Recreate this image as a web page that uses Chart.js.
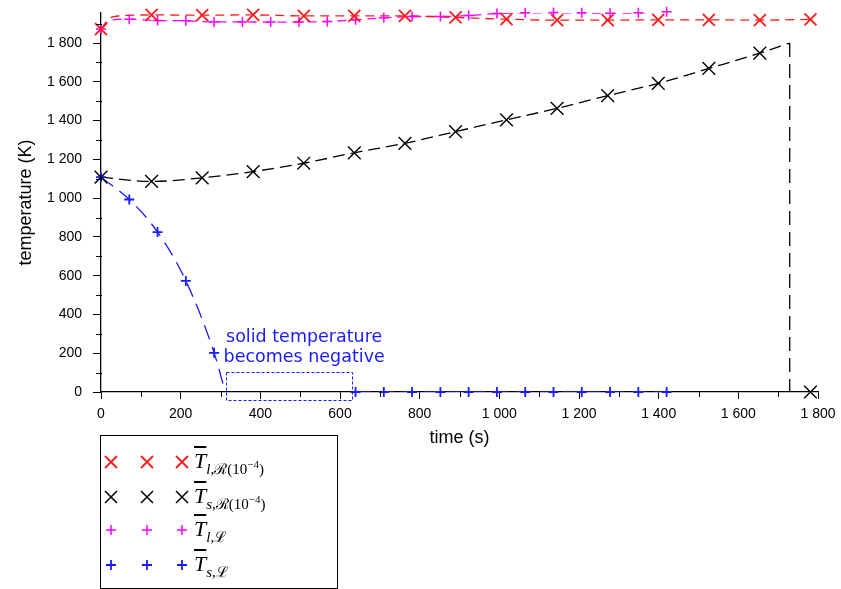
<!DOCTYPE html>
<html>
<head>
<meta charset="utf-8">
<script src="https://cdn.jsdelivr.net/npm/chart.js@4.4.1/dist/chart.umd.min.js"></script>
<style>
  body { margin: 0; background: #fff; }
  #wrap { position: relative; width: 841px; height: 589px; }
  #grafica { position: absolute; left: 0; top: 0; }
  #leyenda { position: absolute; left: 100px; top: 435px; width: 238px; height: 154px; border: 1px solid #000; box-sizing: border-box; }
  .fila { position: absolute; left: 194px; font-family: "Liberation Serif", "DejaVu Serif", serif; font-size: 22px; line-height: 22px; white-space: nowrap; }
  .fila .T { font-style: italic; text-decoration: overline; }
  .fila sub { font-size: 15px; vertical-align: -6px; }
  .fila sub i { font-style: italic; }
  .fila sup { font-size: 11px; vertical-align: 6px; }
</style>
</head>
<body>
<div id="wrap">
  <canvas id="grafica" width="841" height="589"></canvas>
  <div id="leyenda"></div>
  <div class="fila" style="top:450px"><span class="T">T</span><sub><i>l</i>,ℛ(10<sup>−4</sup>)</sub></div>
  <div class="fila" style="top:485px"><span class="T">T</span><sub><i>s</i>,ℛ(10<sup>−4</sup>)</sub></div>
  <div class="fila" style="top:518px"><span class="T">T</span><sub><i>l</i>,ℒ</sub></div>
  <div class="fila" style="top:553px"><span class="T">T</span><sub><i>s</i>,ℒ</sub></div>
</div>
<script>
// Datos
// Serie R(10^-4): una marca cada ~127 s
const tiemposR = [0, 127, 254, 382, 509, 636, 763, 890, 1018, 1145, 1272, 1399, 1526, 1654, 1781];
const liquidoR = [1872, 1945, 1944, 1945, 1940, 1940, 1940, 1932, 1923, 1918, 1918, 1920, 1920, 1918, 1922];
const solidoR  = [1108, 1086, 1105, 1137, 1180, 1234, 1283, 1343, 1404, 1463, 1529, 1592, 1669, 1748, 0];

// Serie L: una marca cada 71 s
const tiemposL = [0, 71, 142, 213, 284, 355, 426, 497, 568, 639, 710, 781, 852, 923, 994, 1065, 1136, 1207, 1278, 1349, 1420];
const liquidoL = [1872, 1923, 1916, 1915, 1909, 1909, 1908, 1909, 1911, 1920, 1930, 1937, 1937, 1942, 1952, 1956, 1957, 1956, 1954, 1956, 1962];
// la temperatura del sólido se vuelve negativa (fuera de la gráfica) entre ~312 s y ~630 s
const solidoL  = [1108, 993, 825, 573, 202, null, null, null, null, 0, 0, 0, 0, 0, 0, 0, 0, 0, 0, 0, 0];

// puntos extra de las curvas (arranque rápido del líquido, cruce por cero, caída final)
const arranqueLiqR = [[20, 1925], [45, 1940]];
const arranqueLiqL = [[20, 1912], [45, 1922]];
const cruceSolidoL = [312, 0];
const finSolidoR   = [[1729, 1800], [1729, 0], [1781, 0]];

// Ejes
const ejeX = { min: 0, max: 1800, paso: 200, titulo: 'time (s)' };
const ejeY = { min: 0, max: 1955, paso: 200, titulo: 'temperature (K)' };

// Anotación
const textoNota = ['solid temperature', 'becomes negative'];
const cajaNota = { t0: 313, t1: 630, v0: 101, v1: -41 };
const posNota = { t: 510, v: 283 };

const AZUL = '#1a1aff';
const ROJO = '#ff1a1a';
const MAGENTA = '#ff00ff';

const pares = (ts, vs) => ts.map((t, i) => ({ x: t, y: vs[i] }));

// curvas (sin marcas)
const curvaLiqR = [pares(tiemposR, liquidoR)[0], ...arranqueLiqR.map(p => ({ x: p[0], y: p[1] })), ...pares(tiemposR, liquidoR).slice(1)];
const curvaLiqL = [pares(tiemposL, liquidoL)[0], ...arranqueLiqL.map(p => ({ x: p[0], y: p[1] })), ...pares(tiemposL, liquidoL).slice(1)];
const curvaSolR = pares(tiemposR.slice(0, 14), solidoR.slice(0, 14)).concat([{ x: finSolidoR[0][0], y: finSolidoR[0][1] }]);
const caidaSolR = finSolidoR.map(p => ({ x: p[0], y: p[1] }));
const curvaSolL = pares(tiemposL, solidoL);
curvaSolL.splice(5, 0, { x: cruceSolidoL[0], y: cruceSolidoL[1] });

function formatoMiles(v) {
  if (v >= 1000) return Math.floor(v / 1000) + ' ' + String(v % 1000).padStart(3, '0');
  return String(v);
}

// Plugin: marcas menores, anotación y símbolos de la leyenda
const extras = {
  id: 'extras',
  afterDraw(chart) {
    const ctx = chart.ctx;
    const x = chart.scales.x, y = chart.scales.y;
    const area = chart.chartArea;
    ctx.save();
    ctx.strokeStyle = '#000';
    ctx.lineWidth = 1;
    ctx.beginPath();
    for (let v = 100; v < ejeX.max; v += 200) {
      const px = Math.round(x.getPixelForValue(v)) + 0.5;
      ctx.moveTo(px, area.bottom - 1);
      ctx.lineTo(px, area.bottom + 5);
    }
    for (let v = 100; v < ejeY.max; v += 200) {
      const py = Math.round(y.getPixelForValue(v)) + 0.5;
      ctx.moveTo(area.left - 5, py);
      ctx.lineTo(area.left + 1, py);
    }
    ctx.stroke();

    // caja punteada de la anotación
    ctx.strokeStyle = AZUL;
    ctx.setLineDash([3, 2]);
    const bx0 = x.getPixelForValue(cajaNota.t0), bx1 = x.getPixelForValue(cajaNota.t1);
    const by0 = y.getPixelForValue(cajaNota.v0), by1 = y.getPixelForValue(cajaNota.v1);
    ctx.strokeRect(Math.round(bx0) + 0.5, Math.round(by0) + 0.5, Math.round(bx1 - bx0), Math.round(by1 - by0));
    ctx.setLineDash([]);

    ctx.fillStyle = AZUL;
    ctx.font = '17.5px "DejaVu Sans"';
    ctx.textAlign = 'center';
    ctx.textBaseline = 'middle';
    const nx = x.getPixelForValue(posNota.t), ny = y.getPixelForValue(posNota.v);
    textoNota.forEach((linea, i) => ctx.fillText(linea, nx, ny + i * 20));

    // símbolos de la leyenda
    const filas = [
      { y: 462, color: ROJO, forma: 'x', w: 1.8 },
      { y: 497, color: '#000', forma: 'x', w: 1.5 },
      { y: 530, color: MAGENTA, forma: '+', w: 1.5 },
      { y: 565, color: AZUL, forma: '+', w: 1.8 }
    ];
    filas.forEach(f => {
      [111, 147, 182].forEach(cx => {
        ctx.strokeStyle = f.color;
        ctx.lineWidth = f.w;
        ctx.beginPath();
        if (f.forma === 'x') {
          ctx.moveTo(cx - 6, f.y - 6); ctx.lineTo(cx + 6, f.y + 6);
          ctx.moveTo(cx - 6, f.y + 6); ctx.lineTo(cx + 6, f.y - 6);
        } else {
          ctx.moveTo(cx - 5, f.y); ctx.lineTo(cx + 5, f.y);
          ctx.moveTo(cx, f.y - 5); ctx.lineTo(cx, f.y + 5);
        }
        ctx.stroke();
      });
    });
    ctx.restore();
  }
};

const linea = (datos, color, guion, extra) => Object.assign({
  data: datos,
  borderColor: color,
  borderWidth: 1.3,
  borderDash: guion,
  pointRadius: 0,
  fill: false,
  showLine: true,
  cubicInterpolationMode: 'monotone',
  spanGaps: false
}, extra || {});

const marcas = (datos, color, forma, radio, ancho) => ({
  data: datos,
  borderColor: color,
  backgroundColor: color,
  showLine: false,
  pointStyle: forma,
  pointRadius: radio,
  pointBorderWidth: ancho,
  clip: false
});

new Chart(document.getElementById('grafica'), {
  type: 'scatter',
  data: {
    datasets: [
      marcas(pares(tiemposR, liquidoR), ROJO, 'crossRot', 8.5, 1.8),
      marcas(pares(tiemposR, solidoR), '#000', 'crossRot', 9, 1.4),
      marcas(pares(tiemposL, liquidoL), MAGENTA, 'cross', 5, 1.5),
      marcas(pares(tiemposL, solidoL).filter(p => p.y !== null), AZUL, 'cross', 5, 1.8),
      linea(curvaLiqR, ROJO, [9, 6]),
      linea(curvaLiqL, MAGENTA, [9, 6]),
      linea(curvaSolR, '#000', [12, 6]),
      linea(caidaSolR, '#000', [14, 7], { cubicInterpolationMode: 'default', tension: 0 }),
      linea(curvaSolL, AZUL, [15, 8])
    ]
  },
  options: {
    responsive: false,
    animation: false,
    events: [],
    layout: { padding: { left: 0, top: 13, right: 23, bottom: 140 } },
    plugins: { legend: { display: false }, tooltip: { enabled: false } },
    scales: {
      x: {
        type: 'linear',
        min: ejeX.min, max: ejeX.max,
        afterFit: s => { s.height = 57; s.paddingLeft = 0; s.paddingRight = 0; },
        ticks: { stepSize: ejeX.paso, color: '#000', padding: 7, maxRotation: 0, font: { family: 'Liberation Sans', size: 14 }, callback: formatoMiles },
        grid: { drawOnChartArea: false, tickLength: 7, tickColor: '#000', tickWidth: 1 },
        border: { display: true, color: '#000', width: 1.3 },
        title: { display: true, text: ejeX.titulo, color: '#000', font: { family: 'Liberation Sans', size: 18 }, padding: { top: 0, bottom: 0 } }
      },
      y: {
        type: 'linear',
        min: ejeY.min, max: ejeY.max,
        afterFit: s => { s.width = 101; s.paddingTop = 0; s.paddingBottom = 0; },
        afterBuildTicks: s => { s.ticks = s.ticks.filter(t => t.value % ejeY.paso === 0); },
        ticks: { stepSize: ejeY.paso, color: '#000', padding: 11, font: { family: 'Liberation Sans', size: 14 }, callback: formatoMiles },
        grid: { drawOnChartArea: false, tickLength: 8, tickColor: '#000', tickWidth: 1 },
        border: { display: true, color: '#000', width: 1.3 },
        title: { display: true, text: ejeY.titulo, color: '#000', font: { family: 'Liberation Sans', size: 18 }, padding: { top: 15, bottom: 0 } }
      }
    }
  },
  plugins: [extras]
});
</script>
</body>
</html>
